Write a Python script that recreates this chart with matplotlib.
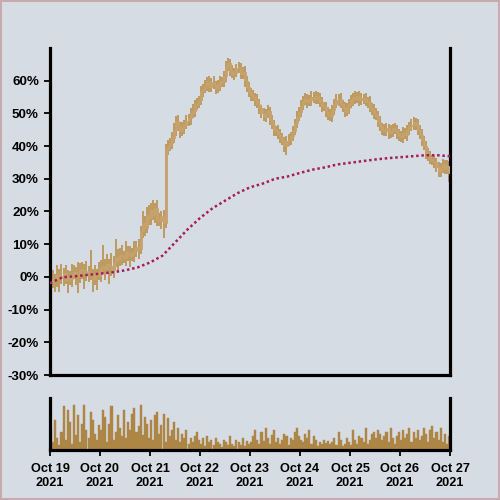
import matplotlib
matplotlib.use("Agg")
import matplotlib.pyplot as plt
import numpy as np

# ---- data (hourly candles, % change from start) ----
close = [
    -1.5, -0.5, -1.0, 0.5, -0.2, 0.3, 1.2, -0.8, 0.2, -0.5, 0.8, 1.5, 1.0, 0.2, 2.2, 2.0, 0.8, 1.8, 1.3, 0.5, -0.5, 1.0, 0.4, 1.5,
    2.8, 3.4, 2.5, 4.0, 3.4, 2.2, 4.5, 6.0, 5.2, 6.8, 6.5, 5.8, 7.5, 7.0, 6.4, 7.2, 8.0, 9.0, 8.5, 14.0, 16.5, 15.0, 19.0, 18.0,
    20.5, 19.0, 21.0, 17.5, 17.0, 18.5, 16.5, 39.0, 40.0, 41.0, 42.5, 45.0, 47.7, 46.0, 44.5, 45.5, 46.5, 47.7, 48.5, 50.0, 50.8, 52.5, 53.0, 54.0,
    56.7, 57.5, 58.5, 59.8, 58.0, 59.5, 58.6, 57.5, 58.6, 60.0, 59.5, 61.3, 64.5, 65.3, 63.0, 62.0, 62.5, 64.0, 63.8, 62.0, 62.8, 60.0, 58.0, 56.5,
    55.5, 55.0, 54.0, 53.0, 51.5, 50.0, 49.0, 50.0, 50.8, 48.0, 46.5, 45.0, 44.5, 43.7, 42.5, 41.5, 40.0, 41.5, 42.0, 43.0, 44.6, 47.0, 49.0, 50.5,
    52.5, 53.9, 54.5, 53.6, 54.0, 55.0, 54.5, 55.4, 54.5, 53.5, 52.3, 52.0, 50.5, 49.5, 49.2, 51.0, 53.0, 54.0, 54.5, 53.0, 52.0, 50.5, 51.5, 53.0,
    54.0, 55.0, 54.5, 55.2, 54.0, 54.8, 54.5, 53.5, 53.6, 52.0, 51.0, 50.0, 49.2, 47.5, 46.0, 45.0, 44.5, 45.5, 44.0, 44.5, 45.5, 45.0, 44.0, 43.0,
    42.7, 44.0, 43.5, 45.0, 46.0, 46.5, 47.3, 46.5, 45.0, 43.5, 41.5, 40.0, 38.0, 36.8, 36.0, 35.5, 35.0, 33.5, 32.0, 33.5, 34.4, 33.0, 34.0, 31.8,
]
wick_up = [
    2.0, 2.5, 1.5, 3.0, 2.0, 3.5, 1.5, 2.5, 2.0, 1.5, 3.0, 2.2, 1.5, 3.5, 2.0, 2.5, 1.8, 3.0, 1.5, 7.0, 2.0, 2.5, 1.5, 3.0,
    2.5, 6.5, 2.0, 3.0, 1.5, 4.0, 1.8, 5.5, 2.5, 2.0, 3.0, 1.5, 3.5, 2.0, 2.5, 1.5, 3.0, 2.0, 2.5, 1.5, 3.5, 2.0, 2.5, 3.0,
    2.0, 3.0, 1.5, 2.5, 2.0, 1.5, 2.0, 1.5, 2.0, 1.5, 1.8, 2.0, 1.5, 1.8, 1.4, 2.0, 1.5, 1.8, 1.4, 1.5, 2.0, 1.5, 1.8, 1.4,
    1.6, 1.4, 1.8, 1.2, 1.6, 1.4, 1.8, 1.3, 1.6, 1.5, 1.2, 1.8, 1.4, 1.6, 1.3, 1.7, 1.4, 1.2, 1.6, 1.5, 1.3, 1.8, 1.4, 1.6,
    1.4, 1.6, 1.3, 1.8, 1.5, 1.2, 1.6, 1.4, 1.7, 1.3, 1.6, 1.5, 1.2, 1.8, 1.4, 1.6, 1.3, 1.5, 1.7, 1.4, 1.6, 1.2, 1.8, 1.5,
    1.6, 1.4, 1.8, 1.3, 1.5, 1.7, 1.4, 1.6, 1.2, 1.8, 1.5, 1.3, 1.6, 1.4, 1.7, 1.5, 1.3, 1.8, 1.4, 1.6, 1.2, 1.5, 1.7, 1.4,
    1.6, 1.3, 1.8, 1.4, 1.6, 1.5, 1.2, 1.7, 1.4, 1.6, 1.3, 1.8, 1.5, 1.4, 1.6, 1.2, 1.7, 1.5, 1.3, 1.8, 1.4, 1.6, 1.5, 1.3,
    1.6, 1.8, 1.4, 1.6, 1.3, 1.7, 1.5, 1.4, 1.8, 1.3, 1.6, 1.5, 1.7, 1.4, 1.6, 1.3, 1.8, 1.5, 1.6, 1.4, 1.7, 1.5, 1.6, 1.4,
]
wick_dn = [
    2.5, 2.0, 3.5, 2.0, 4.5, 2.0, 3.0, 1.5, 4.0, 2.0, 2.5, 1.5, 3.5, 5.0, 2.0, 2.5, 4.5, 2.0, 3.0, 1.5, 4.0, 2.0, 4.5, 1.5,
    3.0, 2.0, 3.5, 1.5, 5.5, 2.0, 2.5, 1.5, 3.5, 2.0, 3.0, 1.5, 2.5, 2.0, 3.5, 1.5, 2.5, 2.0, 3.0, 1.5, 2.0, 2.5, 1.5, 2.0,
    2.0, 1.5, 2.5, 2.0, 1.5, 2.5, 4.5, 1.5, 1.8, 1.4, 2.0, 1.5, 1.8, 1.4, 2.0, 1.5, 1.8, 1.4, 1.5, 2.0, 1.4, 1.8, 1.5, 1.4,
    1.4, 1.6, 1.3, 1.8, 1.5, 1.6, 1.2, 1.7, 1.4, 1.6, 1.3, 1.5, 1.8, 1.4, 1.6, 1.2, 1.7, 1.5, 1.3, 1.6, 1.4, 1.8, 1.5, 1.6,
    1.6, 1.3, 1.8, 1.4, 1.6, 1.5, 1.2, 1.7, 1.4, 1.6, 1.3, 1.8, 1.5, 1.4, 1.6, 1.2, 1.7, 2.6, 1.4, 1.8, 1.5, 1.3, 1.6, 1.4,
    1.5, 1.6, 1.3, 1.8, 1.4, 1.6, 1.2, 1.7, 1.5, 1.4, 1.8, 1.3, 1.6, 1.5, 1.4, 1.7, 1.6, 1.3, 1.8, 1.4, 1.6, 1.5, 1.3, 1.7,
    1.4, 1.6, 1.5, 1.3, 1.8, 1.4, 1.6, 1.2, 1.7, 1.5, 1.4, 1.6, 1.3, 1.8, 1.5, 1.6, 1.4, 1.3, 1.7, 1.5, 1.6, 1.4, 1.8, 1.5,
    1.4, 1.6, 1.3, 1.8, 1.5, 1.4, 1.6, 1.5, 1.7, 1.4, 1.6, 1.3, 1.8, 1.5, 1.6, 1.4, 1.7, 1.5, 1.6, 1.4, 1.8, 1.5, 1.6, 2.8,
]
volume = [
    22, 8, 30, 12, 5, 18, 44, 10, 40, 28, 6, 45, 15, 35, 8, 26, 45, 20, 12, 38, 30, 16, 10, 25,
    20, 40, 33, 8, 26, 44, 10, 18, 35, 22, 14, 40, 12, 28, 20, 36, 42, 18, 24, 45, 15, 33, 26, 12,
    30, 10, 35, 38, 16, 25, 36, 8, 32, 14, 20, 28, 10, 22, 8, 16, 12, 20, 6, 12, 8, 14, 18, 10,
    6, 12, 4, 14, 8, 10, 5, 12, 8, 6, 3, 10, 8, 5, 14, 6, 4, 10, 8, 5, 12, 4, 9, 6,
    8, 14, 20, 10, 6, 18, 9, 22, 12, 6, 15, 20, 8, 12, 6, 10, 16, 14, 5, 12, 10, 18, 22, 14,
    10, 8, 16, 12, 20, 6, 14, 10, 4, 8, 6, 10, 7, 9, 6, 8, 12, 5, 18, 10, 4, 6, 12, 8,
    5, 20, 10, 6, 14, 12, 8, 22, 6, 10, 16, 18, 12, 20, 16, 10, 14, 18, 8, 22, 12, 6, 14, 18,
    10, 20, 12, 16, 22, 8, 18, 12, 20, 10, 14, 22, 16, 8, 20, 24, 12, 18, 10, 22, 8, 16, 6, 14,
]
# moving-average line, sampled every 6 hours
ma_hours = [0, 6, 12, 18, 24, 30, 36, 42, 48, 54, 60, 66, 72, 78, 84, 90, 96, 102, 108, 114,
            120, 126, 132, 138, 144, 150, 156, 162, 168, 174, 180, 186, 192]
ma_values = [-1.9, -0.1, 0.2, 0.6, 1.0, 1.4, 2.0, 2.9, 4.4, 6.5, 10.5, 14.5, 18.0, 21.0, 23.3, 25.6,
             27.4, 28.5, 30.0, 30.7, 31.8, 32.8, 33.5, 34.4, 34.9, 35.4, 35.9, 36.3, 36.6, 36.9,
             37.2, 37.2, 36.9]
day_labels = ["Oct 19\n2021", "Oct 20\n2021", "Oct 21\n2021", "Oct 22\n2021", "Oct 23\n2021",
              "Oct 24\n2021", "Oct 25\n2021", "Oct 26\n2021", "Oct 27\n2021"]
y_ticks = [-30, -20, -10, 0, 10, 20, 30, 40, 50, 60]

# ---- styling ----
BG = "#d6dce3"
CANDLE = "#c6a26c"
WICK = "#bf9b64"
VOL = "#ad8545"
MA = "#a51c5c"
plt.rcParams["font.family"] = ["Liberation Sans", "DejaVu Sans"]

fig = plt.figure(figsize=(5, 5), dpi=100, facecolor=BG)
fig.patch.set_edgecolor("#c9a9ae")
fig.patch.set_linewidth(1.5)

ax = fig.add_axes([0.1, 0.25, 0.8, 0.654])
axv = fig.add_axes([0.1, 0.1, 0.8, 0.104], sharex=ax)
for a in (ax, axv):
    a.set_facecolor(BG)
    a.spines["top"].set_visible(False)
    for s in ("left", "bottom", "right"):
        a.spines[s].set_linewidth(2.3)
        a.spines[s].set_color("black")

n = len(close)
x = (np.arange(n) + 0.5) / 24.0
c = np.array(close)
o = np.concatenate([[c[0] - 0.5], c[:-1]])
hi = np.maximum(o, c) + np.array(wick_up)
lo = np.minimum(o, c) - np.array(wick_dn)

ax.vlines(x, lo, hi, color=WICK, linewidth=1.2, zorder=2, antialiased=False)
bottom = np.minimum(o, c)
height = np.maximum(np.abs(c - o), 0.3)
ax.bar(x, height, bottom=bottom, width=1.0 / 24, color=CANDLE, edgecolor=CANDLE,
       linewidth=0.6, zorder=3)

ax.plot(np.array(ma_hours) / 24.0, ma_values, color=MA, linestyle=(0, (1, 1.1)),
        linewidth=1.8, zorder=4)

ax.set_xlim(0, 8)
ax.set_ylim(-30, 70)
ax.set_yticks(y_ticks)
ax.set_yticklabels([f"{v}%" for v in y_ticks])
ax.tick_params(axis="y", which="both", length=4, width=1.3, pad=4, labelsize=9.6,
               right=False)
for lab in ax.get_yticklabels():
    lab.set_fontweight("bold")
ax.tick_params(axis="x", which="both", bottom=False, labelbottom=False)

axv.bar(x, volume, width=1.0 / 24, color=VOL, edgecolor=VOL, linewidth=0.3, zorder=2)
axv.set_ylim(0, 52)
axv.set_yticks([])
axv.set_xticks(np.arange(9))
axv.set_xticklabels(day_labels)
axv.tick_params(axis="x", length=4, width=1.3, pad=5, labelsize=9.2)
for lab in axv.get_xticklabels():
    lab.set_fontweight("bold")
    lab.set_linespacing(1.3)

fig.savefig("out.png", dpi=100, facecolor=BG, edgecolor=fig.patch.get_edgecolor())
